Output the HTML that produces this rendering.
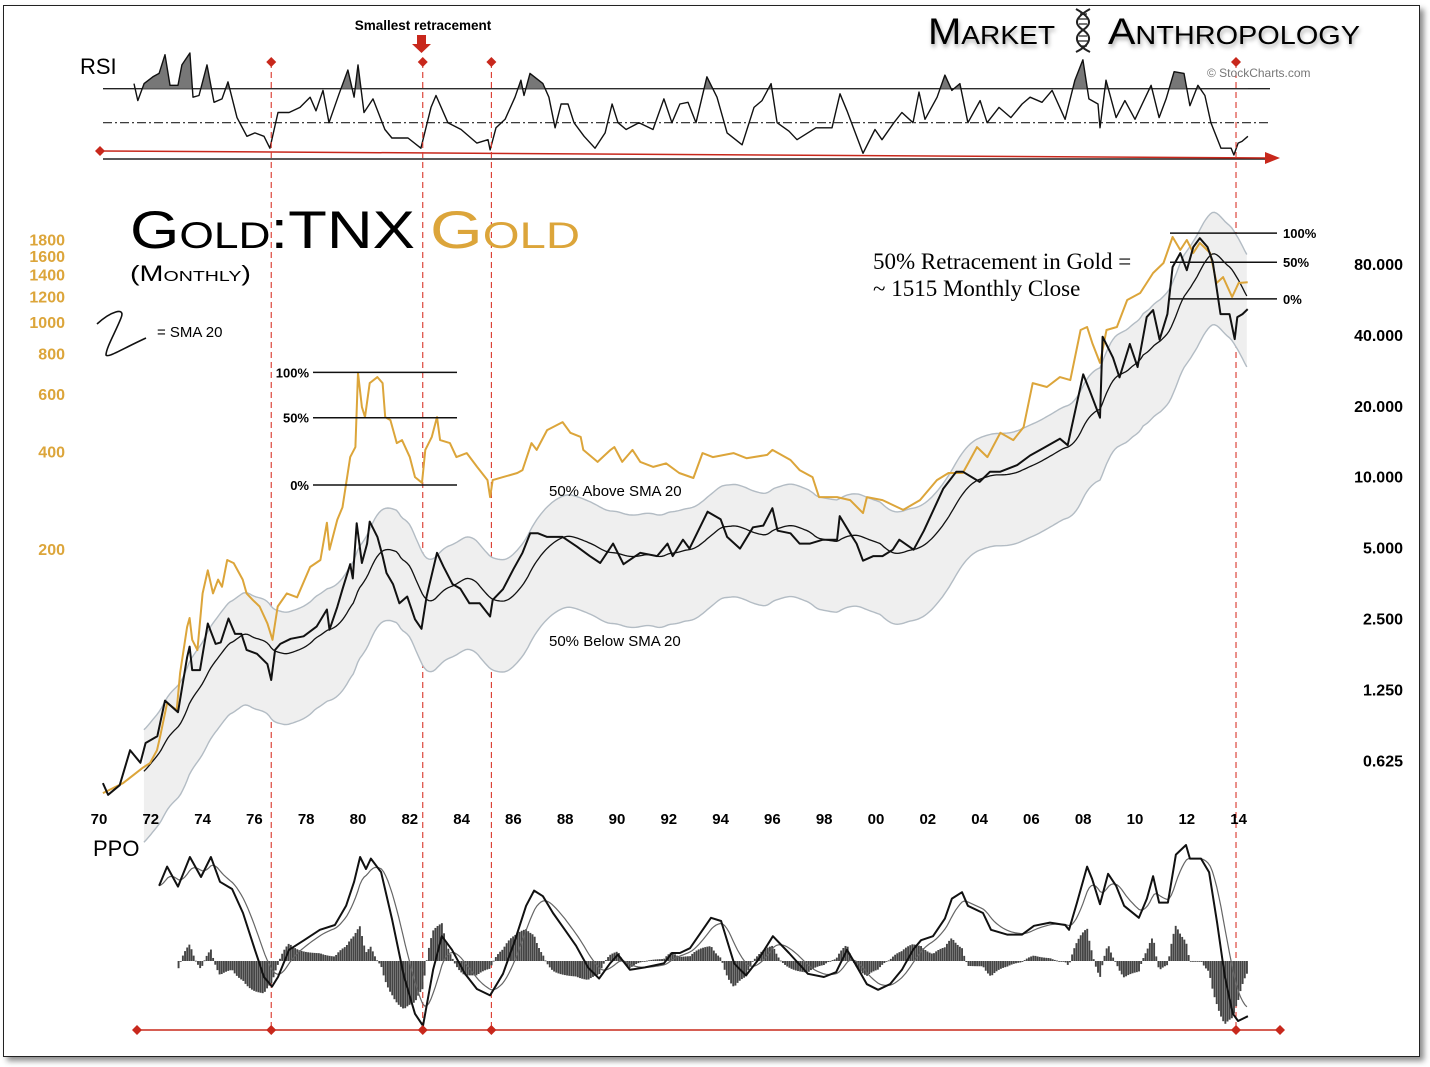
<!DOCTYPE html>
<html><head><meta charset="utf-8"><title>Gold:TNX Monthly</title>
<style>
html,body{margin:0;padding:0;background:#fff;}
svg{display:block;font-family:"Liberation Sans",sans-serif;}
</style></head>
<body>
<svg id="chart" width="1430" height="1067" viewBox="0 0 1430 1067" xmlns="http://www.w3.org/2000/svg">
<defs>
<filter id="shadow" x="-5%" y="-5%" width="110%" height="110%"><feDropShadow dx="4" dy="4" stdDeviation="3" flood-color="#000" flood-opacity="0.45"/></filter>
<filter id="tshadow" x="-10%" y="-30%" width="120%" height="160%"><feDropShadow dx="1" dy="3" stdDeviation="2" flood-color="#000" flood-opacity="0.35"/></filter>
<clipPath id="rsiAbove"><rect x="90" y="0" width="1200" height="88.7"/></clipPath>
</defs>
<rect x="3.5" y="5.5" width="1416" height="1051" fill="#fff" stroke="#222" stroke-width="1" filter="url(#shadow)"/>
<g id="layer"></g>
<text x="423" y="30" font-size="13.5" font-weight="bold" text-anchor="middle">Smallest retracement</text>
<path d="M417,35 h9 v9 h5 l-9.5,9 l-9.5,-9 h5 z" fill="#c8281c"/>
<text x="928" y="44" font-size="37" style="font-variant:small-caps" textLength="127" lengthAdjust="spacingAndGlyphs" filter="url(#tshadow)">Market</text>
<text x="1108" y="44" font-size="37" style="font-variant:small-caps" textLength="252" lengthAdjust="spacingAndGlyphs" filter="url(#tshadow)">Anthropology</text>
<g stroke="#222" fill="none" stroke-width="2">
<path d="M1076,9 C1092,18 1092,24 1083,30 C1074,36 1074,44 1090,52"/>
<path d="M1090,9 C1074,18 1074,24 1083,30 C1092,36 1092,44 1076,52"/>
<path d="M1080,14h7M1078,19h10M1079,24h8M1079,36h8M1078,41h10M1080,46h7" stroke-width="1.3"/>
</g>
<text x="1207" y="77" font-size="12" fill="#777">© StockCharts.com</text>
<text x="80" y="74" font-size="22">RSI</text>
<text x="93" y="856" font-size="22">PPO</text>
<text x="130" y="248" font-size="53" style="font-variant:small-caps" textLength="285" lengthAdjust="spacingAndGlyphs">Gold:TNX</text>
<text x="430" y="248" font-size="53" fill="#dca53a" style="font-variant:small-caps" textLength="150" lengthAdjust="spacingAndGlyphs">Gold</text>
<text x="130" y="281" font-size="22" style="font-variant:small-caps" textLength="121" lengthAdjust="spacingAndGlyphs">(Monthly)</text>
<path d="M97,324 C110,312 126,306 121,318 C116,331 106,348 106,355 C108,358 120,350 146,338" fill="none" stroke="#111" stroke-width="1.6"/>
<text x="157" y="337" font-size="15">= SMA 20</text>
<text x="549" y="496" font-size="15">50% Above SMA 20</text>
<text x="549" y="646" font-size="15">50% Below SMA 20</text>
<text x="873" y="269" font-size="23" font-family="Liberation Serif, serif">50% Retracement in Gold =</text>
<text x="873" y="296" font-size="23" font-family="Liberation Serif, serif">~ 1515 Monthly Close</text>
</svg>
<script>
// ---- data ----
const ratioDates=[1970.15,1970.35,1970.8,1971.2,1971.6,1971.8,1972.25,1972.55,1973.05,1973.4,1973.5,1973.6,1973.9,1974.2,1974.5,1974.7,1975.0,1975.25,1975.5,1975.7,1976.1,1976.5,1976.65,1976.8,1977.0,1977.4,1977.9,1978.4,1978.8,1978.9,1979.2,1979.4,1979.7,1979.8,1979.95,1980.15,1980.35,1980.45,1980.75,1980.95,1981.1,1981.35,1981.6,1981.9,1982.2,1982.45,1982.65,1983.05,1983.3,1983.65,1983.95,1984.3,1984.7,1985.1,1985.2,1985.6,1986.0,1986.35,1986.65,1986.95,1987.3,1987.9,1988.45,1988.95,1989.35,1989.85,1990.25,1990.9,1991.55,1991.95,1992.15,1992.55,1992.8,1993.5,1994.0,1994.25,1994.75,1995.25,1995.65,1996.0,1996.2,1996.7,1997.05,1997.45,1997.95,1998.5,1998.6,1999.0,1999.25,1999.5,1999.9,2000.25,2000.65,2000.9,2001.45,2001.85,2002.6,2003.1,2003.35,2004.0,2004.4,2004.8,2005.45,2005.95,2006.45,2007.1,2007.4,2008.0,2008.25,2008.65,2008.75,2009.15,2009.4,2009.8,2010.1,2010.45,2010.7,2010.95,2011.25,2011.45,2011.75,2012.0,2012.25,2012.5,2012.8,2013.0,2013.3,2013.65,2013.85,2013.95,2014.15,2014.35];
const ratioVals=[0.50,0.446,0.49,0.69,0.61,0.74,0.79,1.12,1.0,1.71,1.9,1.51,1.51,2.38,1.95,1.98,2.5,2.15,2.15,1.84,1.77,1.6,1.37,1.84,1.95,2.05,2.1,2.31,2.73,2.24,2.8,3.33,4.25,3.7,6.35,4.3,5.2,6.45,5.55,4.6,3.9,3.5,2.9,3.1,2.48,2.26,3.1,4.75,4.15,3.5,3.35,2.9,2.9,2.55,3.0,3.33,4.05,4.75,5.75,5.75,5.55,5.55,5.05,4.6,4.3,5.2,4.25,4.75,4.6,5.2,4.6,5.4,4.95,7.1,6.6,5.55,4.95,6.1,6.2,7.35,5.9,5.75,5.2,5.2,5.4,5.4,6.8,5.75,5.2,4.4,4.6,4.6,4.9,5.4,4.9,5.9,8.9,10.5,10.5,9.5,10.5,10.5,11.2,12.3,13.2,14.5,13.6,27.2,23.2,17.8,39.3,32,26.4,36.6,29.2,47.6,51,38.2,49,77.7,89,75.3,94.5,103,94.5,82,49,49,38.4,47.6,49,51.5];
const goldDates=[1970.15,1970.93,1971.7,1971.97,1972.24,1972.36,1972.63,1973.0,1973.13,1973.4,1973.5,1973.6,1973.8,1974.0,1974.2,1974.4,1974.6,1974.75,1974.95,1975.2,1975.55,1975.7,1975.95,1976.2,1976.5,1976.7,1976.9,1977.25,1977.65,1978.15,1978.55,1978.8,1978.9,1979.2,1979.4,1979.7,1979.9,1980.0,1980.15,1980.27,1980.45,1980.75,1980.95,1981.05,1981.25,1981.5,1981.7,1982.0,1982.2,1982.47,1982.6,1982.85,1983.05,1983.17,1983.55,1983.8,1984.2,1984.6,1985.0,1985.1,1985.2,1985.6,1986.15,1986.35,1986.7,1986.9,1987.3,1987.9,1988.2,1988.6,1988.7,1989.25,1989.75,1989.9,1990.2,1990.6,1990.9,1991.4,1991.9,1992.4,1992.95,1993.3,1993.7,1994.5,1995.0,1995.8,1996.0,1996.7,1997.05,1997.55,1997.8,1998.5,1999.0,1999.5,1999.65,2000.25,2001.05,2001.7,2002.35,2002.8,2003.35,2003.9,2004.3,2004.8,2005.3,2005.7,2006.05,2006.6,2007.1,2007.5,2007.9,2008.15,2008.35,2008.65,2008.9,2009.3,2009.7,2010.2,2010.7,2011.1,2011.45,2011.75,2012.0,2012.25,2012.5,2012.9,2013.15,2013.4,2013.75,2014.0,2014.35];
const goldVals=[35.4,38,42.4,43.8,48,52.8,67,63.8,83,115,122.6,105,97.6,146,172,146,161,153,185,181,161,146,139,133,118,105,133,146,142,176,185,241,199,246,269,384,412,697,548,510,649,677,649,510,499,424,433,384,333,320,404,443,510,433,424,384,395,358,326,289,326,333,343,350,424,404,465,492,456,443,404,371,404,412,371,404,371,358,367,343,331,395,384,395,381,390,404,376,350,333,289,289,283,258,289,283,264,283,326,343,343,412,384,456,433,475,649,631,677,663,946,966,862,749,946,966,1170,1230,1417,1521,1829,1668,1791,1634,1754,1634,1320,1377,1195,1320,1328];
const rsiDates=[1971.35,1971.5,1971.74,1972.08,1972.32,1972.55,1972.74,1973.05,1973.2,1973.51,1973.63,1973.86,1974.17,1974.44,1974.75,1974.98,1975.33,1975.71,1976.02,1976.37,1976.6,1976.91,1977.34,1977.76,1978.15,1978.38,1978.65,1978.88,1979.27,1979.61,1979.85,1980.0,1980.23,1980.58,1981.04,1981.31,1981.93,1982.43,1982.82,1983.01,1983.47,1983.98,1984.59,1985.02,1985.1,1985.33,1985.68,1986.06,1986.29,1986.41,1986.64,1987.14,1987.37,1987.61,1987.84,1988.11,1988.34,1988.73,1989.15,1989.54,1989.81,1990.04,1990.35,1990.85,1991.39,1991.81,1992.12,1992.43,1992.74,1993.05,1993.47,1993.86,1994.25,1994.83,1995.29,1995.6,1995.95,1996.18,1996.64,1996.95,1997.68,1998.3,1998.61,1998.88,1999.5,1999.96,2000.23,2000.69,2001.0,2001.43,2001.66,2001.89,2002.36,2002.66,2002.93,2003.24,2003.55,2004.02,2004.29,2004.75,2005.21,2005.64,2005.95,2006.41,2006.8,2007.3,2007.68,2007.99,2008.22,2008.57,2008.65,2008.88,2009.27,2009.61,2010.0,2010.62,2010.93,2011.2,2011.51,2011.89,2012.12,2012.43,2012.7,2012.93,2013.32,2013.71,2013.82,2013.98,2014.13,2014.36];
const rsiVals=[73,63,73,77,79,90,72,72,84,91,65,66,84,62,64,74,53,42,44,42,35,56,56,59,65,57,69,50,67,81,65,84,56,64,46,41,41,35,59,66,50,46,38,40,34,47,52,65,75,66,79,73,65,47,61,61,50,42,35,44,61,50,46,50,46,64,50,61,62,50,77,65,44,37,59,63,73,50,45,40,47,47,67,57,32,46,40,50,56,50,68,52,65,78,69,73,50,63,50,59,53,61,65,62,69,52,75,87,64,61,47,75,53,63,52,72,53,64,80,79,60,72,66,50,35,35,31,38,39,42];
const ppoDates=[1972.32,1972.63,1973.05,1973.51,1973.94,1974.32,1974.67,1975.14,1975.56,1976.02,1976.37,1976.68,1976.91,1977.34,1977.92,1978.53,1979.11,1979.54,1979.85,1980.08,1980.31,1980.5,1980.89,1981.31,1981.78,1982.2,1982.51,1982.9,1983.24,1983.63,1984.13,1984.59,1985.1,1985.6,1986.06,1986.49,1986.8,1987.14,1987.53,1987.99,1988.42,1988.88,1989.31,1989.73,1990.04,1990.5,1991.08,1991.81,1992.12,1992.43,1992.82,1993.63,1994.02,1994.52,1994.98,1995.44,1996.02,1996.64,1997.37,1997.99,1998.46,1998.88,1999.19,1999.65,2000.08,2000.54,2001.0,2001.43,2001.74,2002.2,2002.66,2002.93,2003.32,2003.55,2004.13,2004.44,2005.06,2005.64,2006.1,2006.72,2007.3,2007.45,2007.76,2008.15,2008.34,2008.65,2008.96,2009.27,2009.58,2010.15,2010.46,2010.7,2010.93,2011.27,2011.58,2011.97,2012.12,2012.55,2012.86,2013.17,2013.47,2013.78,2013.98,2014.36];
const ppoVals=[9.4,11.8,9.3,13,10.5,13,9.9,9,6,1.4,-2,-3.2,-2,1.4,2.6,3.9,4.5,6.9,9.9,13,11.5,12.8,11.1,5.3,-2,-6.6,-8.1,-1.1,3.1,1.4,-1.6,-3.5,-4.3,-1.6,2.6,6.9,8.8,8.1,6,3.9,1.9,-0.8,-2.2,-0.3,0.8,-1.1,-0.8,-0.3,1,1,1.6,5.4,5,-0.3,-1.8,0.1,3.1,1,-1.6,-2,-1.4,1.4,-0.3,-2.9,-3.6,-2.9,-1.1,1.4,2.6,3.1,5.3,7.8,8.6,6.9,6,3.9,3.3,3.3,4.4,4.8,4.5,3.9,7.3,11.8,10.3,7.1,10.9,9.4,6.9,5.4,7.8,10.6,7.3,7.3,13.3,14.5,12.8,12.8,11.1,4.8,-2,-6.6,-7.5,-6.9];
const xTickYears=[1970,1972,1974,1976,1978,1980,1982,1984,1986,1988,1990,1992,1994,1996,1998,2000,2002,2004,2006,2008,2010,2012,2014];
const xTickLabels=['70','72','74','76','78','80','82','84','86','88','90','92','94','96','98','00','02','04','06','08','10','12','14'];
const ratioTicks=[80,40,20,10,5,2.5,1.25,0.625];
const ratioTickLabels=['80.000','40.000','20.000','10.000','5.000','2.500','1.250','0.625'];
const goldTicks=[1800,1600,1400,1200,1000,800,600,400,200];
const markerDates=[1976.65,1982.5,1985.15,2013.9];
const retraceLeft=[700,315];
const retraceRight=[1880,1180];
const retraceLabels=['100%','50%','0%'];

// ---- scales ----
const xOf=t=>99+(t-1970)*25.9;
const rY=v=>264-70.9*Math.log2(v/80);
const gY=v=>549-97.7*Math.log2(v/200);
const rsiY=v=>122.7-(v-50)*1.7;
const ppoY=v=>961-v*8;
const NS='http://www.w3.org/2000/svg';
const layer=document.getElementById('layer');
function mk(tag,attrs,parent){const e=document.createElementNS(NS,tag);for(const k in attrs)e.setAttribute(k,attrs[k]);(parent||layer).appendChild(e);return e;}
function pathD(xs,ys){return xs.map((x,i)=>(i?'L':'M')+x.toFixed(1)+','+ys[i].toFixed(1)).join('');}
function monthly(dates,vals,logI){const t=[],v=[];for(let d=dates[0];d<=dates[dates.length-1]+1e-6;d+=1/12){let j=0;while(j<dates.length-2&&dates[j+1]<d)j++;const f=Math.max(0,Math.min(1,(d-dates[j])/(dates[j+1]-dates[j])));t.push(d);v.push(logI?Math.exp(Math.log(vals[j])*(1-f)+Math.log(vals[j+1])*f):vals[j]*(1-f)+vals[j+1]*f);}return {t,v};}

// ---- RSI panel ----
let e;
e=mk('line',{x1:103,x2:1270,y1:rsiY(70),y2:rsiY(70),stroke:'#222','stroke-width':1.3});


e=mk('line',{x1:103,x2:1270,y1:rsiY(50),y2:rsiY(50),stroke:'#222','stroke-width':1.2,'stroke-dasharray':'9,3,2,3'});


e=mk('line',{x1:103,x2:1270,y1:159,y2:159,stroke:'#222','stroke-width':1.5});


const rx=rsiDates.map(xOf), ry=rsiVals.map(rsiY);
e=mk('path',{d:pathD(rx,ry)+'L'+rx[rx.length-1]+','+rsiY(70)+'L'+rx[0]+','+rsiY(70)+'Z',fill:'#777','clip-path':'url(#rsiAbove)'});


e=mk('path',{d:pathD(rx,ry),fill:'none',stroke:'#111','stroke-width':1.4,'stroke-linejoin':'round'});


e=mk('line',{x1:100,y1:151,x2:1268,y2:158,stroke:'#c8281c','stroke-width':1.5});


e=mk('path',{d:'M1265,152 L1280,158 L1265,164 Z',fill:'#c8281c'});


e=mk('path',{d:'M100,146 l5,5 l-5,5 l-5,-5 z',fill:'#c8281c'});



// ---- marker verticals ----
markerDates.forEach(d=>{const x=xOf(d);
 const l=mk('line',{x1:x,x2:x,y1:62,y2:1030,stroke:'#d9362a','stroke-width':1.1,'stroke-dasharray':'6,4'});
 
 
 const dm=mk('path',{d:`M${x},57 l5,5 l-5,5 l-5,-5 z`,fill:'#c8281c'});
 
 
});

// ---- main chart: band + SMA ----
const rm=monthly(ratioDates,ratioVals,true);
const smaT=[],smaV=[];
for(let i=19;i<rm.v.length;i++){let s=0;for(let k=i-19;k<=i;k++)s+=rm.v[k];smaT.push(rm.t[i]);smaV.push(s/20);}
const sx=smaT.map(xOf), up=smaV.map(v=>rY(v*1.5)), lo=smaV.map(v=>rY(v*0.5));
e=mk('path',{d:pathD(sx,up)+sx.slice().reverse().map((x,i)=>'L'+x.toFixed(1)+','+lo[lo.length-1-i].toFixed(1)).join('')+'Z',fill:'#efefef',stroke:'none'});


e=mk('path',{d:pathD(sx,up),fill:'none',stroke:'#b3bcc4','stroke-width':1.4});


e=mk('path',{d:pathD(sx,lo),fill:'none',stroke:'#b3bcc4','stroke-width':1.4});


e=mk('path',{d:pathD(sx,smaV.map(rY)),fill:'none',stroke:'#111','stroke-width':1.3});


e=mk('path',{d:pathD(goldDates.map(xOf),goldVals.map(gY)),fill:'none',stroke:'#dca53a','stroke-width':2,'stroke-linejoin':'round'});


e=mk('path',{d:pathD(ratioDates.map(xOf),ratioVals.map(rY)),fill:'none',stroke:'#111','stroke-width':2,'stroke-linejoin':'round'});



// ---- retracement levels ----
function retr(hi,lo,x1,x2,lx,anchor,fs){
 const lv=[hi,(hi+lo)/2,lo];
 lv.forEach((v,i)=>{const y=gY(v);
  const l=mk('line',{x1:x1,x2:x2,y1:y,y2:y,stroke:'#111','stroke-width':1.5});
  
  
  const t=mk('text',{x:lx,y:y+5,'font-size':fs,'font-weight':'bold','text-anchor':anchor});
  t.textContent=retraceLabels[i];
  
  
 });
}
retr(retraceLeft[0],retraceLeft[1],313,457,309,'end',13);
retr(retraceRight[0],retraceRight[1],1170,1277,1283,'start',13);

// ---- axes labels ----
xTickYears.forEach((yr,i)=>{const t=mk('text',{x:xOf(yr),y:824,'font-size':15,'font-weight':'bold','text-anchor':'middle'});
 t.textContent=xTickLabels[i];
 
 });
ratioTicks.forEach((v,i)=>{const t=mk('text',{x:1403,y:rY(v)+6,'font-size':16,'font-weight':'bold','text-anchor':'end'});
 t.textContent=ratioTickLabels[i];
 
 });
goldTicks.forEach(v=>{const t=mk('text',{x:65,y:gY(v)+6,'font-size':16,'font-weight':'bold','text-anchor':'end',fill:'#dca53a'});
 t.textContent=String(v);
 
 });

// ---- PPO panel ----
const pm=monthly(ppoDates,ppoVals,false);
const sig=[];let ema=pm.v[0];
pm.v.forEach(v=>{ema=ema+(v-ema)*0.2;sig.push(ema);});
const hg=mk('g',{fill:'#444'});


pm.t.forEach((t,i)=>{if(t<1973)return;const d=(pm.v[i]-sig[i])*1.3;const y0=ppoY(0),y1=ppoY(d);
 const b=mk('rect',{x:xOf(t)-0.9,y:Math.min(y0,y1),width:1.9,height:Math.max(0.8,Math.abs(y1-y0))},hg);
 
 });
e=mk('path',{d:pathD(pm.t.map(xOf),sig.map(ppoY)),fill:'none',stroke:'#666','stroke-width':1.2});


e=mk('path',{d:pathD(ppoDates.map(xOf),ppoVals.map(ppoY)),fill:'none',stroke:'#111','stroke-width':2,'stroke-linejoin':'round'});


e=mk('line',{x1:137,x2:1280,y1:1030,y2:1030,stroke:'#c8281c','stroke-width':1.5});


[137].concat(markerDates.map(xOf)).concat([1280]).forEach(x=>{
 const dm=mk('path',{d:`M${x},1025 l5,5 l-5,5 l-5,-5 z`,fill:'#c8281c'});
 
 });
</script>
</body></html>
